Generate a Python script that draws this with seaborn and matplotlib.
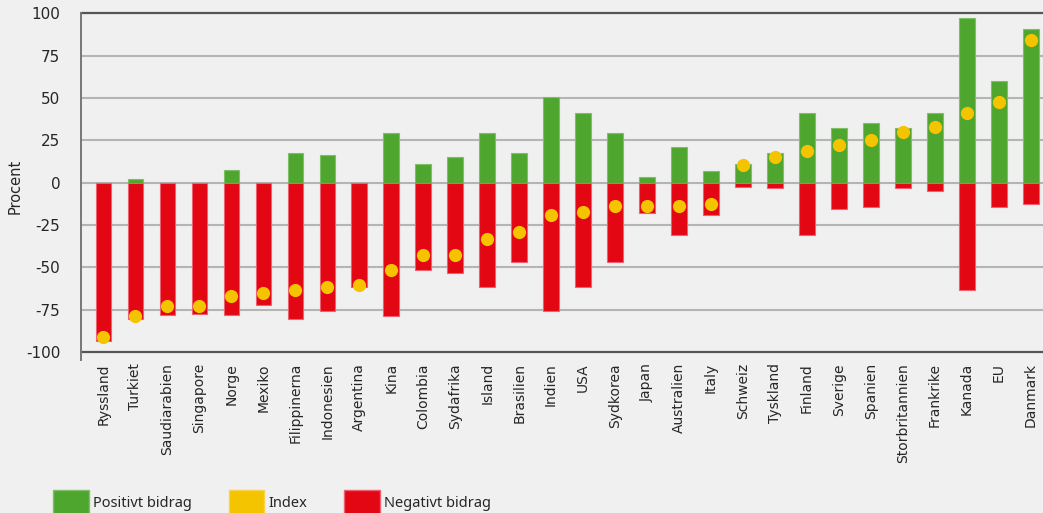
import matplotlib
matplotlib.use("Agg")
import matplotlib.pyplot as plt
from matplotlib.patches import Patch
import pandas as pd
import seaborn as sns

# Values (percent)
countries = ['Ryssland', 'Turkiet', 'Saudiarabien', 'Singapore', 'Norge', 'Mexiko',
             'Filippinerna', 'Indonesien', 'Argentina', 'Kina', 'Colombia', 'Sydafrika',
             'Island', 'Brasilien', 'Indien', 'USA', 'Sydkorea', 'Japan', 'Australien',
             'Italy', 'Schweiz', 'Tyskland', 'Finland', 'Sverige', 'Spanien',
             'Storbritannien', 'Frankrike', 'Kanada', 'EU', 'Danmark']
positive = [0, 2.4, 0, 0, 7.5, 0, 17.7, 16.1, 0, 29.5, 11, 15, 29.5, 17.7, 50.4, 41.3,
            29.5, 3.1, 20.9, 6.7, 11, 17.7, 41.3, 32.5, 35.4, 32.5, 41.3, 97.2, 59.8, 90.7]
negative = [-93.5, -80.3, -78, -77.4, -78, -72.5, -80.3, -76, -61.7, -78.8, -51.4, -53.2,
            -61.7, -46.7, -76, -61.7, -46.7, -18.1, -30.9, -19.1, -2.8, -3.4, -30.9, -15.6,
            -14.4, -3.4, -5, -63.6, -14.4, -12.8]
index = [-91, -78.8, -72.7, -72.7, -66.8, -65, -63.6, -61.7, -60.2, -51.4, -42.5, -42.5,
         -33.5, -28.9, -19.1, -17.1, -13.8, -13.8, -13.8, -12.8, 10.4, 15.4, 18.9, 22,
         25.4, 29.7, 32.7, 41.3, 47.6, 84]
yticks = [-100, -75, -50, -25, 0, 25, 50, 75, 100]

green = '#4fa62f'
yellow = '#f5c400'
red = '#e30613'
bg = '#f0f0f0'

df = pd.DataFrame({'Land': countries, 'Positiv': positive,
                   'Negativ': negative, 'Index': index})

sns.set_style('white')
plt.rcParams['font.family'] = ['DejaVu Sans']

fig = plt.figure(figsize=(10.43, 5.13), dpi=100, facecolor=bg)
ax = fig.add_axes([81 / 1043, 161 / 513, 962 / 1043, 338.7 / 513])
ax.set_facecolor(bg)

sns.barplot(data=df, x='Land', y='Positiv', color=green, width=0.48,
            edgecolor='#7fc065', linewidth=0.8, saturation=1, ax=ax, zorder=3)
sns.barplot(data=df, x='Land', y='Negativ', color=red, width=0.48,
            edgecolor='#ee6070', linewidth=0.8, saturation=1, ax=ax, zorder=3)
sns.stripplot(data=df, x='Land', y='Index', color=yellow, size=9.5, jitter=False,
              linewidth=0, ax=ax, zorder=4)

ax.set_xlim(-0.695, 29.375)
ax.set_ylim(-100, 100)
ax.set_yticks(yticks)
ax.set_yticklabels([str(t) for t in yticks], fontsize=11)
for t in yticks:
    if abs(t) == 100:
        ax.axhline(t, color='#555555', lw=1.6, zorder=1, clip_on=False)
    else:
        ax.axhline(t, color='#b4b4b4', lw=1.5, zorder=1)

for s in ['top', 'right', 'bottom']:
    ax.spines[s].set_visible(False)
ax.spines['left'].set_color('#777777')
ax.spines['left'].set_linewidth(1.4)
ax.spines['left'].set_bounds(-105, 100)
ax.tick_params(axis='y', length=6.5, width=1.4, color='#777777', pad=8.5)
ax.tick_params(axis='x', length=0, pad=8)
plt.setp(ax.get_xticklabels(), rotation=90, fontsize=10)
ax.set_xlabel('')
ax.set_ylabel('Procent', fontsize=10.5)
ax.yaxis.set_label_coords(-0.061, 0.49)

handles = [Patch(facecolor=green, edgecolor='#7fc065', label='Positivt bidrag'),
           Patch(facecolor=yellow, edgecolor='#f7d24a', label='Index'),
           Patch(facecolor=red, edgecolor='#ee6070', label='Negativt bidrag')]
fig.legend(handles=handles, loc='lower left', bbox_to_anchor=(40 / 1043, -0.03),
           ncol=3, frameon=False, handlelength=2.45, handleheight=2.3,
           handletextpad=0.3, columnspacing=2.5,
           prop={'family': ['Noto Sans', 'DejaVu Sans'], 'size': 10.5})

fig.savefig('out.png', dpi=100, facecolor=bg)
